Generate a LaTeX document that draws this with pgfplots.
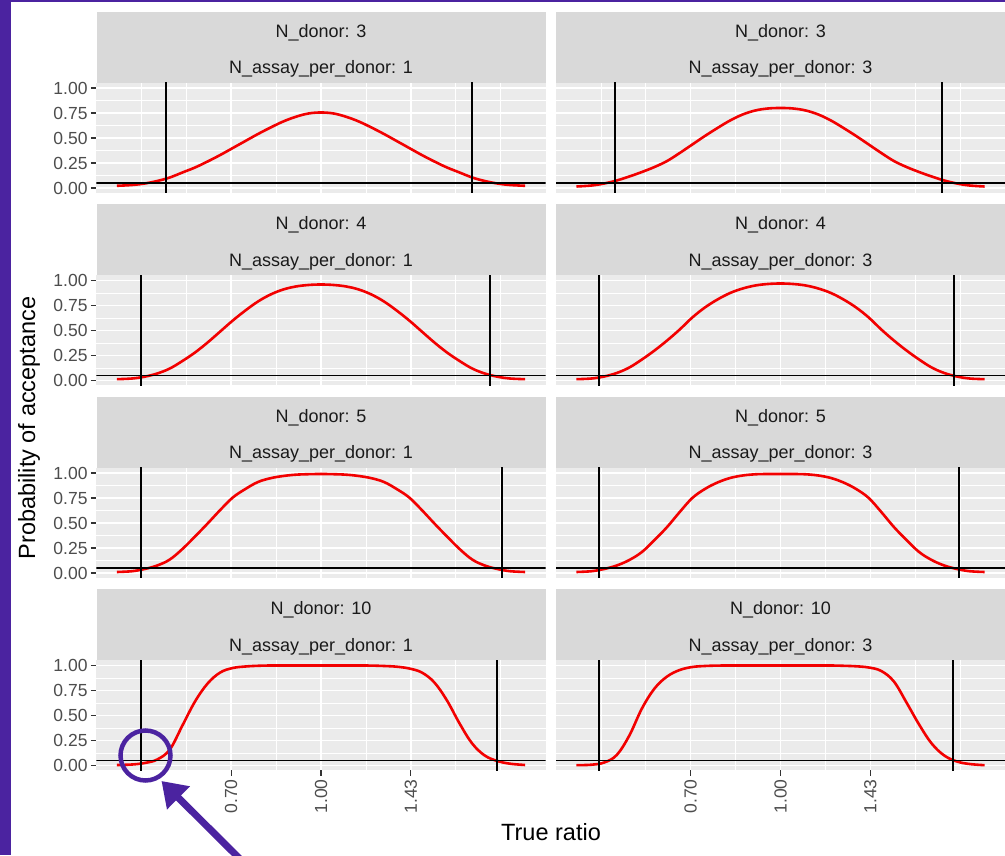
\documentclass[border=0pt]{standalone}
\usepackage{fontspec}
\setmainfont{Liberation Sans}
\usepackage{pgfplots}
\usepackage{pgfplotstable}
\pgfplotsset{compat=1.18}
\usetikzlibrary{arrows.meta}

\definecolor{panelbg}{HTML}{EBEBEB}
\definecolor{stripbg}{HTML}{D9D9D9}
\definecolor{striptext}{HTML}{1A1A1A}
\definecolor{ticklab}{HTML}{4D4D4D}
\definecolor{tickcol}{HTML}{333333}
\definecolor{frame}{RGB}{75,35,160}
\definecolor{curvered}{HTML}{F20000}

\newcommand\tickfont{\fontsize{17.5}{20}\selectfont}
\newcommand\stripfont{\fontsize{18}{21}\selectfont}
\newcommand\titlefont{\fontsize{23.5}{27}\selectfont}

% x = true ratio, p1..p8 = probability of acceptance per panel
% p1: N_donor 3 / assay 1, p2: 4/1, p3: 5/1, p4: 10/1, p5: 3/3, p6: 4/3, p7: 5/3, p8: 10/3
\pgfplotstableread{
x      p1    p2    p3    p4    p5    p6    p7    p8
0.4449 0.022 0.013 0.010 0.005 0.015 0.013 0.010 0.003
0.4724 0.030 0.020 0.018 0.010 0.025 0.020 0.018 0.008
0.4966 0.045 0.038 0.040 0.025 0.045 0.040 0.040 0.030
0.5220 0.070 0.070 0.075 0.060 0.075 0.075 0.075 0.105
0.5488 0.105 0.120 0.135 0.160 0.115 0.130 0.130 0.300
0.5769 0.155 0.195 0.240 0.400 0.160 0.210 0.210 0.570
0.6065 0.205 0.280 0.365 0.640 0.210 0.300 0.330 0.770
0.6376 0.265 0.380 0.495 0.820 0.270 0.400 0.460 0.890
0.6703 0.330 0.490 0.630 0.930 0.350 0.510 0.610 0.955
0.7047 0.400 0.600 0.755 0.975 0.435 0.630 0.750 0.985
0.7408 0.470 0.700 0.840 0.990 0.520 0.730 0.840 0.995
0.7788 0.540 0.790 0.910 0.997 0.600 0.810 0.905 0.999
0.8187 0.605 0.860 0.948 1.000 0.675 0.875 0.950 1.000
0.8607 0.665 0.910 0.970 1.000 0.735 0.920 0.975 1.000
0.9048 0.712 0.940 0.983 1.000 0.775 0.950 0.987 1.000
0.9512 0.745 0.955 0.988 1.000 0.795 0.965 0.990 1.000
1.0000 0.755 0.960 0.990 1.000 0.800 0.970 0.990 1.000
1.0513 0.745 0.955 0.988 1.000 0.795 0.965 0.990 1.000
1.1052 0.712 0.940 0.983 1.000 0.775 0.950 0.987 1.000
1.1618 0.665 0.910 0.970 1.000 0.735 0.920 0.975 1.000
1.2214 0.605 0.860 0.948 0.999 0.675 0.875 0.950 1.000
1.2840 0.540 0.790 0.910 0.995 0.600 0.810 0.905 0.997
1.3499 0.470 0.700 0.840 0.988 0.520 0.730 0.840 0.992
1.4191 0.400 0.600 0.755 0.970 0.435 0.630 0.750 0.980
1.4918 0.330 0.490 0.630 0.930 0.350 0.510 0.610 0.945
1.5683 0.265 0.380 0.495 0.830 0.270 0.400 0.460 0.840
1.6487 0.205 0.280 0.365 0.650 0.210 0.300 0.330 0.630
1.7333 0.155 0.195 0.240 0.420 0.160 0.210 0.210 0.410
1.8221 0.105 0.120 0.135 0.220 0.115 0.130 0.130 0.220
1.9155 0.070 0.070 0.075 0.100 0.075 0.075 0.075 0.100
2.0138 0.045 0.038 0.040 0.045 0.045 0.040 0.040 0.040
2.1170 0.030 0.020 0.018 0.018 0.025 0.020 0.018 0.015
2.2479 0.022 0.013 0.010 0.005 0.015 0.013 0.010 0.003
}\curves

% #1 x, #2 y (bottom-left of panel), #3 column, #4 left vline, #5 right vline,
% #6 x tick style, #7 x tick labels, #8 y tick style, #9 y tick labels
\newcommand\panel[9]{%
\begin{axis}[
    scale only axis, width=449pt, height=110pt, anchor=south west,
    at={(#1,#2)},
    xmode=log, xmin=0.4102, xmax=2.4375, ymin=-0.05, ymax=1.05,
    axis background/.style={fill=panelbg},
    axis line style={draw=none},
    xtick={0.7,1,1.428571}, ytick={0,0.25,0.5,0.75,1},
    minor xtick={0.4902,0.5857,0.8369,1.1948,1.7074,2.0401},
    minor ytick={0.125,0.375,0.625,0.875},
    grid=both,
    major grid style={white, line width=1.4pt},
    minor grid style={white, line width=0.7pt},
    tick style={draw=tickcol, line width=1.1pt},
    major tick length=5.5pt,
    minor tick length=0pt,
    tick align=outside,
    xtick pos=bottom, ytick pos=left,
    x tick label style={rotate=90, anchor=east, font=\tickfont, text=ticklab, inner sep=0pt, outer sep=3.5pt},
    y tick label style={anchor=east, font=\tickfont, text=ticklab, inner sep=0pt, outer sep=3.5pt},
    xticklabels={#7}, yticklabels={#9},
    xtick style={#6},
    ytick style={#8},
  ]
\addplot[curvered, line width=2.6pt, smooth, tension=0.6] table[x=x,y=#3]{\curves};
\addplot[black, line width=1.7pt] coordinates {(0.3,0.05) (3,0.05)};
\addplot[black, line width=1.7pt] coordinates {(#4,-0.2) (#4,1.2)};
\addplot[black, line width=1.7pt] coordinates {(#5,-0.2) (#5,1.2)};
\end{axis}}

% #1 x-left, #2 y (plot bottom), #3 donor, #4 assay
\newcommand\strip[4]{%
\fill[stripbg] (#1,#2+110pt) rectangle ++(449pt,71pt);
\node[anchor=base, text=striptext, font=\stripfont, inner sep=0pt] at (#1+224.5pt,#2+155.7pt) {N\_donor: #3};
\node[anchor=base, text=striptext, font=\stripfont, inner sep=0pt] at (#1+224.5pt,#2+119pt) {N\_assay\_per\_donor: #4};
}

\begin{document}
\begin{tikzpicture}
\useasboundingbox (0,0) rectangle (1005pt,855pt);
\fill[white] (0,0) rectangle (1005pt,855pt);

\strip{96.5pt}{662pt}{3}{1}
\strip{556pt}{662pt}{3}{3}
\strip{96.5pt}{469.5pt}{4}{1}
\strip{556pt}{469.5pt}{4}{3}
\strip{96.5pt}{277pt}{5}{1}
\strip{556pt}{277pt}{5}{3}
\strip{96.5pt}{84.5pt}{10}{1}
\strip{556pt}{84.5pt}{10}{3}

\panel{96.5pt}{662pt}{p1}{0.540}{1.820}{draw=none}{}{}{0.00,0.25,0.50,0.75,1.00}
\panel{556pt}{662pt}{p5}{0.518}{1.900}{draw=none}{}{draw=none}{}
\panel{96.5pt}{469.5pt}{p2}{0.489}{1.957}{draw=none}{}{}{0.00,0.25,0.50,0.75,1.00}
\panel{556pt}{469.5pt}{p6}{0.487}{1.990}{draw=none}{}{draw=none}{}
\panel{96.5pt}{277pt}{p3}{0.489}{2.050}{draw=none}{}{}{0.00,0.25,0.50,0.75,1.00}
\panel{556pt}{277pt}{p7}{0.487}{2.030}{draw=none}{}{draw=none}{}
\panel{96.5pt}{84.5pt}{p4}{0.489}{2.010}{}{0.70,1.00,1.43}{}{0.00,0.25,0.50,0.75,1.00}
\panel{556pt}{84.5pt}{p8}{0.486}{1.985}{}{0.70,1.00,1.43}{draw=none}{}

\node[anchor=base, font=\titlefont] at (551pt,15pt) {True ratio};
\node[anchor=base, rotate=90, font=\titlefont] at (35pt,427pt) {Probability of acceptance};

% frame and annotation
\fill[frame] (0,0) rectangle (11pt,855pt);
\fill[frame] (0,853pt) rectangle (1005pt,855pt);
\draw[frame, line width=4.5pt] (145.5pt,99.5pt) circle (25pt);
\draw[frame, line width=7pt, -{Triangle[length=24pt,width=31pt]}] (240pt,-4pt) -- (161.5pt,74pt);
\end{tikzpicture}
\end{document}
